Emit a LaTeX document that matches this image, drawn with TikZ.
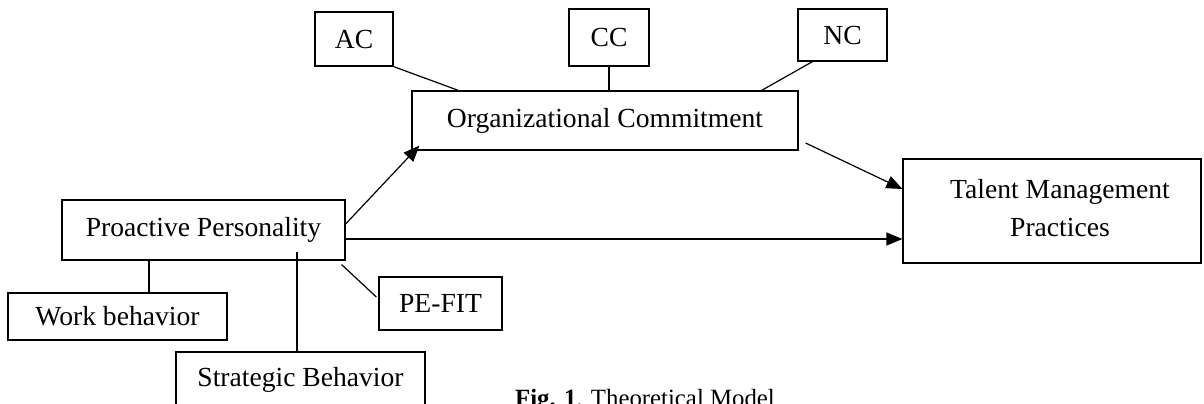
\documentclass[tikz,border=0pt]{standalone}
\usepackage{fontspec}
\setmainfont{Liberation Serif}
\usetikzlibrary{arrows.meta}
\tikzset{
  box/.style={draw,inner sep=0pt,align=center,font=\fontsize{13.8}{17}\selectfont},
  link/.style={line width=0.6pt},
  arr/.style={line width=0.6pt,-{Triangle[length=8pt,width=6.5pt]}}
}

\begin{document}
\begin{tikzpicture}[x=0.5pt,y=-0.5pt,line width=0.6pt]
    \useasboundingbox (0,0) rectangle (1204,403);

    \node [box, minimum width=39pt, minimum height=27pt] (AC) at (354,39) {AC};
    \node [box, minimum width=40pt, minimum height=28.5pt] (CC) at (609,37.5) {CC};
    \node [box, minimum width=44.5pt, minimum height=26pt] (NC) at (842.5,35) {NC};
    \node [box, minimum width=193pt, minimum height=29.5pt] (OC) at (605,120.5) {Organizational Commitment};
    \node [box, minimum width=149pt, minimum height=52pt] (TMP) at (1052,211) {\raisebox{4.5pt}{\hspace{8pt}\begin{tabular}{@{}c@{}}Talent Management\\[2pt]Practices\end{tabular}}};

    \node [box, minimum width=141.5pt, minimum height=30pt] (PP) at (203.5,230) {Proactive Personality};
    \node [box, minimum width=109.5pt, minimum height=23.5pt] (WB) at (117.5,316.5) {Work behavior};
    \node [box, minimum width=124.5pt, minimum height=28pt] (SB) at (300.5,380) {Strategic Behavior};
    \node [box, minimum width=61.5pt, minimum height=26.5pt] (PE) at (440.5,303.5) {PE-FIT};

    \draw [link] (AC.south east) -- ([xshift=23.5pt]OC.north west);
    \draw [link] (CC.south) -- (CC.south |- OC.north);
    \draw [link] ([xshift=-15pt]NC.south) -- ([xshift=-18.5pt]OC.north east);

    \draw [arr] ([xshift=3.5pt,yshift=-11.25pt]OC.east) -- ([yshift=11pt]TMP.west);
    \draw [arr] ([yshift=3pt]PP.east) -- ([xshift=4pt,yshift=2.5pt]OC.south west);
    \draw [arr] ([yshift=-4.5pt]PP.east) -- ([yshift=-4.5pt]PP.east -| TMP.west);

    \draw [link] (149,293) coordinate (wbtop) -- (wbtop |- PP.south);
    \draw [link] (297,252) coordinate (sbtop) -- (sbtop |- SB.north);
    \draw [link] ([xshift=-2pt,yshift=-2pt]PP.south east) -- ([xshift=-1pt,yshift=3.25pt]PE.west);

    \node [anchor=base, font=\fontsize{12.4}{15}\selectfont] (cap) at (645,406) {\textbf{Fig. 1}. Theoretical Model};
  \end{tikzpicture}
\end{document}
